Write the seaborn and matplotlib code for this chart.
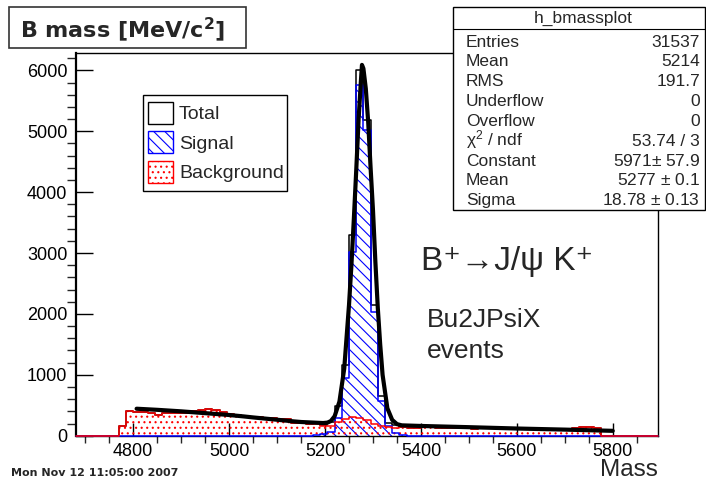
import numpy as np
import matplotlib

matplotlib.use("Agg")
import matplotlib.pyplot as plt
import seaborn as sns
from matplotlib.patches import Rectangle

# binning of h_bmassplot (15 MeV bins)
BIN_START = 4680
BIN_WIDTH = 15
N_BINS = 81

BACKGROUND = [
    0, 0, 0, 0, 0, 0, 153, 399, 388, 383,
    372, 345, 372, 372, 377, 372, 399, 426, 437, 415,
    388, 355, 333, 328, 311, 301, 290, 285, 279, 279,
    208, 208, 197, 192, 160, 164, 230, 275, 300, 290,
    250, 200, 160, 140, 130, 135, 125, 120, 145, 140,
    125, 120, 130, 125, 120, 115, 120, 125, 135, 120,
    115, 120, 110, 115, 110, 105, 110, 115, 110, 120,
    150, 140, 130, 0, 0, 0, 0, 0, 0, 0,
    0,
]
SIGNAL = [
    0, 0, 0, 0, 0, 0, 0, 0, 0, 0,
    0, 0, 0, 0, 0, 0, 0, 0, 0, 0,
    0, 0, 0, 0, 0, 0, 0, 0, 0, 0,
    0, 0, 0, 10, 20, 60, 295, 946, 3023, 5756,
    5018, 2039, 563, 153, 40, 10, 0, 0, 0, 0,
    0, 0, 0, 0, 0, 0, 0, 0, 0, 0,
    0, 0, 0, 0, 0, 0, 0, 0, 0, 0,
    0, 0, 0, 0, 0, 0, 0, 0, 0, 0,
    0,
]
TOTAL = [
    0, 0, 0, 0, 0, 0, 153, 399, 388, 383,
    372, 345, 372, 372, 377, 372, 399, 426, 437, 415,
    388, 355, 333, 328, 311, 301, 290, 285, 279, 279,
    208, 208, 197, 202, 180, 224, 480, 1164, 3296, 6002,
    5182, 2148, 645, 213, 170, 145, 125, 120, 145, 140,
    125, 120, 130, 125, 120, 115, 120, 125, 135, 120,
    115, 120, 110, 115, 110, 105, 110, 115, 110, 120,
    150, 140, 130, 0, 0, 0, 0, 0, 0, 0,
    0,
]

# fitted function (gaussian + background)
FIT_MASS = [
    4807, 4850, 4900, 4950, 5000, 5030, 5050, 5100, 5135, 5150,
    5196, 5205, 5212, 5220, 5230, 5240, 5250, 5255, 5260, 5265,
    5270, 5275, 5277, 5280, 5285, 5290, 5295, 5300, 5305, 5310,
    5315, 5320, 5330, 5340, 5350, 5360, 5400, 5500, 5600, 5700,
    5800,
]
FIT_VALUE = [
    443, 425, 400, 370, 340, 317, 300, 262, 235, 225,
    208, 215, 240, 320, 560, 1100, 2150, 2800, 3550, 4350,
    5200, 5850, 6090, 6030, 5700, 5150, 4400, 3700, 2850, 2100,
    1500, 1000, 450, 260, 190, 170, 160, 140, 118, 100,
    80,
]

STATS_LABELS = ["Entries", "Mean", "RMS", "Underflow", "Overflow",
                "χ$^{2}$ / ndf", "Constant", "Mean", "Sigma"]
STATS_VALUES = ["31537", "5214", "191.7", "0", "0", "53.74 / 3",
                "5971$\\pm$ 57.9", "5277 $\\pm$ 0.1", "18.78 $\\pm$ 0.13"]
LEGEND_LABELS = ["Total", "Signal", "Background"]

W, H = 706, 482
HATCH_SIGNAL = "\\\\\\"
HATCH_BKG = "..."


def fx(px):
    return px / W


def fy(py):
    return 1 - py / H


sns.set_style("ticks")
plt.rcParams["font.family"] = ["Liberation Sans", "DejaVu Sans"]
plt.rcParams["mathtext.fontset"] = "custom"
plt.rcParams["mathtext.rm"] = "Liberation Sans"
plt.rcParams["mathtext.it"] = "Liberation Sans:italic"
plt.rcParams["mathtext.bf"] = "Liberation Sans:bold"
plt.rcParams["hatch.linewidth"] = 0.8

fig = plt.figure(figsize=(W / 100, H / 100), dpi=100)
ax = fig.add_axes([fx(75.7), fy(435.7), fx(658.3 - 75.7), (435.7 - 52.7) / H])

edges = (BIN_START + BIN_WIDTH * np.arange(N_BINS + 1)).tolist()
centers = [e + BIN_WIDTH / 2 for e in edges[:-1]]

# hatched areas (alpha=0 keeps the face empty, the hatch takes the edge colour)
sns.histplot(x=centers, weights=SIGNAL, bins=edges, element="step", fill=True,
             color="blue", alpha=0, hatch=HATCH_SIGNAL, linewidth=0, ax=ax)
sns.histplot(x=centers, weights=BACKGROUND, bins=edges, element="step", fill=True,
             color="red", alpha=0, hatch=HATCH_BKG, linewidth=0, ax=ax)

# histogram outlines: total, signal, background (root drawing order)
for counts, col in [(TOTAL, "black"), (SIGNAL, "blue"), (BACKGROUND, "red")]:
    sns.histplot(x=centers, weights=counts, bins=edges, element="step", fill=False,
                 color=col, linewidth=1.1, clip_on=False, zorder=3, ax=ax)

sns.lineplot(x=FIT_MASS, y=FIT_VALUE, color="black", linewidth=3, ax=ax, zorder=5)

ax.set_xlim(edges[0], edges[-1])
ax.set_ylim(0, 6290)
ax.set_xticks(np.arange(4800, 5801, 200))
ax.set_xticks(np.arange(4700, 5900, 50), minor=True)
ax.set_yticks(np.arange(0, 6001, 1000))
ax.set_yticks(np.arange(0, 6290, 200), minor=True)
ax.tick_params(direction="in", labelsize=13, colors="black")
ax.tick_params(axis="y", which="major", length=12, width=1, pad=6)
ax.tick_params(axis="y", which="minor", length=6.5, width=1)
ax.tick_params(axis="x", which="major", length=9.5, width=1, pad=5)
ax.tick_params(axis="x", which="minor", length=5, width=1)
ax.tick_params(top=False, right=False, which="both")
ax.set_xlabel("")
ax.set_ylabel("")
for side in ["top", "right", "bottom"]:
    ax.spines[side].set_linewidth(1)
    ax.spines[side].set_color("black")
ax.spines["left"].set_linewidth(1.6)
ax.spines["left"].set_color("black")

fig.text(fx(658), fy(476.5), "Mass", ha="right", va="baseline", fontsize=17.5)

# title box
fig.add_artist(Rectangle((fx(9), fy(48)), fx(246 - 9), (48 - 7) / H,
                         transform=fig.transFigure, facecolor="white",
                         edgecolor="#333333", linewidth=1.2))
fig.text(fx(20), fy(37.5), "B mass [MeV/c$^{\\mathbf{2}}$]", fontsize=16,
         fontweight="bold", va="baseline", family="DejaVu Sans",
         math_fontfamily="dejavusans")

# statistics box
fig.add_artist(Rectangle((fx(453), fy(210)), fx(705 - 453), (210 - 7) / H,
                         transform=fig.transFigure, facecolor="white",
                         edgecolor="black", linewidth=1.0, zorder=3))
fig.add_artist(plt.Line2D([fx(453), fx(705)], [fy(29), fy(29)],
                          transform=fig.transFigure, color="black", linewidth=0.8, zorder=4))
fig.text(fx(583), fy(23), "h_bmassplot", ha="center", va="baseline", fontsize=12.5, zorder=5)
for i, (lab, val) in enumerate(zip(STATS_LABELS, STATS_VALUES)):
    yb = fy(46.7 + 19.8 * i)
    fig.text(fx(466), yb, lab, ha="left", va="baseline", fontsize=12.5, zorder=5)
    fig.text(fx(700), yb, val, ha="right", va="baseline", fontsize=12.5, zorder=5)

# legend box
fig.add_artist(Rectangle((fx(142.7), fy(190.7)), fx(287.3 - 142.7), (190.7 - 95) / H,
                         transform=fig.transFigure, facecolor="white",
                         edgecolor="black", linewidth=1.0, zorder=3))
swatches = [dict(edgecolor="black", hatch=None),
            dict(edgecolor="blue", hatch=HATCH_SIGNAL),
            dict(edgecolor="red", hatch=HATCH_BKG)]
for i, (lab, sw) in enumerate(zip(LEGEND_LABELS, swatches)):
    top = 101.5 + 29.5 * i
    fig.add_artist(Rectangle((fx(148), fy(top + 22)), fx(25), 22 / H,
                             transform=fig.transFigure, facecolor="none",
                             linewidth=1.0, zorder=4, **sw))
    fig.text(fx(179), fy(119.3 + 29.5 * i), lab, ha="left", va="baseline",
             fontsize=14, zorder=5)

# annotations inside the frame
fig.text(fx(421), fy(270), "B⁺→J/ψ K⁺", fontsize=24, va="baseline")
fig.text(fx(427), fy(327.3), "Bu2JPsiX", fontsize=19, va="baseline")
fig.text(fx(427), fy(358.3), "events", fontsize=19, va="baseline")

fig.text(fx(11), fy(476), "Mon Nov 12 11:05:00 2007", fontsize=8,
         fontweight="bold", va="baseline", family="DejaVu Sans")

fig.savefig("out.png", dpi=100)
